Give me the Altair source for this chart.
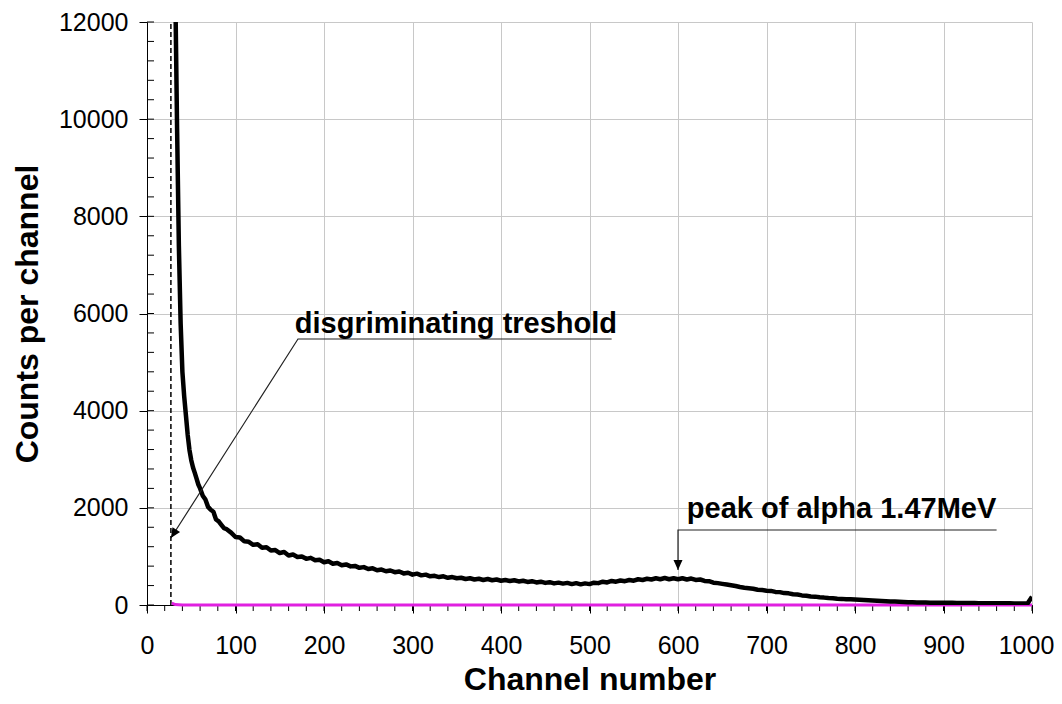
import altair as alt
import pandas as pd

# ---- spectrum ----
channel = [30, 32, 34, 36, 38, 40, 42, 44, 46, 48, 50, 52, 54, 56, 58, 60, 63, 66, 69, 72,
           75, 78, 81, 84, 87, 90, 95, 100, 105, 110, 115, 120, 125, 130, 135, 140, 145, 150,
           155, 160, 165, 170, 175, 180, 185, 190, 195, 200, 205, 210, 215, 220, 225, 230,
           235, 240, 245, 250, 255, 260, 265, 270, 275, 280, 285, 290, 295, 300, 305, 310,
           315, 320, 325, 330, 335, 340, 345, 350, 355, 360, 365, 370, 375, 380, 385, 390,
           395, 400, 405, 410, 415, 420, 425, 430, 435, 440, 445, 450, 455, 460, 465, 470,
           475, 480, 485, 490, 495, 500, 505, 510, 515, 520, 525, 530, 535, 540, 545, 550,
           555, 560, 565, 570, 575, 580, 585, 590, 595, 600, 605, 610, 615, 620, 625, 630,
           635, 640, 645, 650, 655, 660, 665, 670, 675, 680, 685, 690, 695, 700, 705, 710,
           715, 720, 725, 730, 735, 740, 745, 750, 755, 760, 765, 770, 775, 780, 785, 790,
           795, 800, 805, 810, 815, 820, 825, 830, 835, 840, 845, 850, 855, 860, 865, 870,
           875, 880, 885, 890, 895, 900, 905, 910, 915, 920, 925, 930, 935, 940, 945, 950,
           955, 960, 965, 970, 975, 980, 985, 990, 995, 1000]
counts = [17000, 12600, 9800, 7400, 5800, 4800, 4300, 3900, 3500, 3190, 2980, 2830, 2720,
          2600, 2480, 2400, 2250, 2170, 2020, 1960, 1920, 1760, 1720, 1650, 1580, 1560, 1490,
          1400, 1390, 1310, 1300, 1240, 1250, 1180, 1190, 1120, 1130,
          1070, 1090, 1020, 1040, 990, 1000, 950, 970, 920, 930,
          880, 900, 850, 865, 820, 835, 795, 805, 765, 780,
          740, 755, 715, 730, 695, 710, 675, 690, 650, 665,
          625, 645, 610, 625, 590, 600, 575, 590, 560, 575,
          550, 560, 535, 550, 525, 540, 515, 535, 510, 525,
          500, 515, 495, 510, 485, 500, 475, 490, 465, 480,
          455, 470, 445, 460, 440, 455, 430, 450, 425, 445,
          430, 460, 450, 480, 465, 495, 480, 505, 490, 515,
          500, 530, 515, 540, 525, 550, 530, 555, 530, 550,
          530, 550, 525, 545, 515, 525, 495, 490, 460, 450,
          435, 420, 405, 390, 370, 355, 345, 335, 315, 310,
          295, 290, 270, 265, 245, 240, 220, 215, 198, 192,
          176, 172, 158, 152, 142, 138, 128, 126, 118, 118,
          112, 108, 102, 96, 92, 86, 82, 78, 74, 70,
          66, 62, 58, 56, 54, 52, 50, 48, 47, 46,
          45, 44, 44, 43, 42, 41, 40, 39, 38, 38,
          37, 36, 35, 35, 34, 34, 33, 32, 31, 30,
          170]

# second (magenta) series, almost zero
base_ch = [28, 32, 40, 1000]
base_counts = [40, 10, 0, 0]

threshold_ch = [27]
threshold_lo = [0]
threshold_hi = [12000]

x_ticks = list(range(0, 1001, 100))
x_minor = list(range(0, 1001, 20))
y_ticks = list(range(0, 12001, 2000))
y_minor = list(range(0, 12001, 400))

ann_text = ["disgriminating treshold", "peak of alpha 1.47MeV"]
ann_ch = [167, 610]
ann_cnt = [5600, 1785]

leader_group = ["a", "a", "a", "b", "b", "b"]
leader_order = [0, 1, 2, 0, 1, 2]
leader_ch = [525, 170.6, 27, 960, 600, 600]
leader_cnt = [5475, 5475, 1379, 1544, 1544, 720]

arrow_ch = [27, 600]
arrow_cnt = [1379, 720]
arrow_angle = [212.5, 180]

FONT = "Liberation Sans"

spec_df = pd.DataFrame({"ch": channel, "cnt": counts})
base_df = pd.DataFrame({"ch": base_ch, "cnt": base_counts})
thr_df = pd.DataFrame({"ch": threshold_ch, "lo": threshold_lo, "hi": threshold_hi})
xminor_df = pd.DataFrame({"ch": x_minor})
yminor_df = pd.DataFrame({"cnt": y_minor})
ann_df = pd.DataFrame({"ch": ann_ch, "cnt": ann_cnt, "text": ann_text})
lead_df = pd.DataFrame({"g": leader_group, "o": leader_order, "ch": leader_ch, "cnt": leader_cnt})
arr_df = pd.DataFrame({"ch": arrow_ch, "cnt": arrow_cnt, "ang": arrow_angle})

xs = alt.Scale(domain=[0, 1000], nice=False, zero=False)
ys = alt.Scale(domain=[0, 12000], nice=False)

x_axis = alt.Axis(values=x_ticks, format="d", title="Channel number", grid=True,
                  gridColor="#c8c8c8", gridWidth=1, domainColor="black", domainWidth=1,
                  tickColor="black", tickSize=8, labelFont=FONT, labelFontSize=25,
                  labelColor="black", labelPadding=20, labelFlush=False,
                  labelOffset={"condition": {"test": "datum.value === 1000", "value": -6},
                               "value": 0},
                  titleFont=FONT, titleFontSize=32, titleFontWeight="bold",
                  titleColor="black", titleY=84, titleBaseline="alphabetic")
y_axis = alt.Axis(values=y_ticks, format="d", title="Counts per channel", grid=True,
                  gridColor="#c8c8c8", gridWidth=1, domainColor="black", domainWidth=1,
                  tickColor="black", tickSize=8, labelFont=FONT, labelFontSize=25,
                  labelColor="black", labelPadding=11, labelFlush=False, titleFont=FONT,
                  titleFontSize=32, titleFontWeight="bold", titleColor="black",
                  titleX=-110, titleBaseline="alphabetic")

curve = alt.Chart(spec_df).mark_line(color="black", strokeWidth=4.5, clip=True,
                                     strokeJoin="round").encode(
    x=alt.X("ch:Q", scale=xs, axis=x_axis),
    y=alt.Y("cnt:Q", scale=ys, axis=y_axis),
    order="ch:Q",
)

base = alt.Chart(base_df).mark_line(color="#e020e0", strokeWidth=3).encode(
    x=alt.X("ch:Q", scale=xs), y=alt.Y("cnt:Q", scale=ys))

thr = alt.Chart(thr_df).mark_rule(color="black", strokeWidth=1.5, strokeDash=[5, 3]).encode(
    x=alt.X("ch:Q", scale=xs), y=alt.Y("lo:Q", scale=ys), y2="hi:Q")

xminor = alt.Chart(xminor_df).mark_rule(color="black", strokeWidth=1).encode(
    x=alt.X("ch:Q", scale=xs), y=alt.value(583), y2=alt.value(589))

yminor = alt.Chart(yminor_df).mark_rule(color="black", strokeWidth=1).encode(
    y=alt.Y("cnt:Q", scale=ys), x=alt.value(0), x2=alt.value(7))

leaders = alt.Chart(lead_df).mark_line(color="#222222", strokeWidth=1.2).encode(
    x=alt.X("ch:Q", scale=xs), y=alt.Y("cnt:Q", scale=ys), detail="g:N", order="o:Q")

arrows = alt.Chart(arr_df).mark_point(shape="M0,0L-0.45,1L0.45,1Z", filled=True,
                                       color="black", size=400, opacity=1).encode(
    x=alt.X("ch:Q", scale=xs), y=alt.Y("cnt:Q", scale=ys),
    angle=alt.Angle("ang:Q", scale=None))

labels = alt.Chart(ann_df).mark_text(font=FONT, fontSize=29, fontWeight="bold", color="black",
                                     align="left", baseline="alphabetic").encode(
    x=alt.X("ch:Q", scale=xs), y=alt.Y("cnt:Q", scale=ys), text="text:N")

chart = alt.layer(yminor, xminor, thr, base, curve, leaders, arrows, labels).properties(
    width=885, height=583, autosize="none",
    padding={"left": 139, "top": 14, "right": 22, "bottom": 91},
    background="white",
).configure_view(stroke=None)

chart.save("out.html", embed_options={"renderer": "svg", "actions": False})
